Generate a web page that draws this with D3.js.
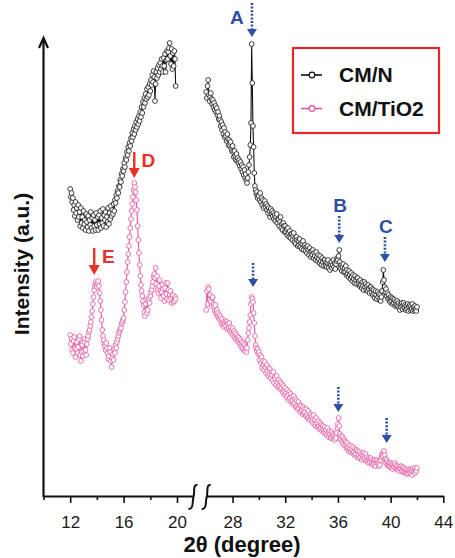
<!DOCTYPE html>
<html>
<head>
<meta charset="utf-8">
<script src="https://cdn.jsdelivr.net/npm/d3@7/dist/d3.min.js"></script>
<style>
  body { margin: 0; background: #fff; }
  svg { display: block; font-family: "Liberation Sans", Arial, Helvetica, sans-serif; }
</style>
</head>
<body>
<svg id="chart" width="455" height="558"></svg>
<script>
// XRD scans recorded with a 0.05° step; intensities in arbitrary units.
const step = 0.05;
const leftStart = 12.0;   // low-angle window, 12.00° – 19.90°
const rightStart = 26.0;  // high-angle window, 26.00° – 42.00°

// one row = 0.5°
const cmnLeft = [
  307, 299, 303, 294, 298, 286, 291, 280, 294, 283,
  288, 276, 291, 279, 284, 270, 288, 273, 279, 268,
  285, 272, 276, 266, 282, 274, 269, 280, 265, 276,
  271, 284, 268, 278, 265, 281, 270, 276, 266, 283,
  271, 279, 266, 281, 272, 285, 268, 278, 273, 287,
  270, 281, 276, 284, 269, 279, 274, 288, 272, 283,
  277, 290, 280, 286, 282, 292, 285, 296, 293, 301,
  298, 305, 303, 310, 309, 316, 314, 322, 320, 327,
  325, 333, 329, 338, 336, 344, 341, 349, 345, 353,
  350, 358, 355, 363, 359, 367, 362, 370, 366, 374,
  369, 377, 372, 380, 375, 384, 379, 389, 383, 394,
  389, 398, 393, 402, 397, 407, 399, 409, 401, 412,
  405, 416, 411, 421, 414, 425, 419, 395, 412, 424,
  418, 428, 421, 431, 424, 433, 427, 437, 430, 424,
  438, 430, 442, 424, 436, 445, 437, 444, 448, 453,
  440, 432, 447, 427, 443, 430, 445, 437, 410
];

const tio2Left = [
  161, 152, 157, 146, 143, 155, 159, 148, 139, 147,
  154, 143, 149, 157, 160, 141, 135, 144, 151, 140,
  145, 154, 157, 146, 141, 152, 157, 160, 164, 166,
  170, 174, 179, 185, 192, 199, 206, 210, 214, 211,
  209, 213, 215, 210, 203, 195, 186, 176, 166, 160,
  156, 152, 150, 146, 153, 148, 143, 137, 140, 148,
  144, 135, 129, 138, 142, 136, 147, 143, 151, 148,
  154, 157, 160, 163, 165, 167, 168, 172, 174, 176,
  178, 186, 194, 204, 214, 224, 234, 242, 250, 259,
  268, 277, 285, 292, 299, 306, 313, 309, 304, 296,
  286, 270, 256, 243, 231, 220, 211, 205, 200, 195,
  191, 184, 180, 192, 196, 183, 186, 195, 198, 193,
  200, 204, 206, 210, 214, 219, 222, 218, 228, 212,
  220, 206, 203, 210, 216, 205, 198, 204, 211, 207,
  200, 195, 208, 213, 202, 197, 213, 206, 196, 201,
  205, 198, 193, 200, 201, 194, 195, 199, 197
];

const cmnRight = [
  404, 398, 410, 416, 401, 395, 399, 403, 397, 392,
  396, 389, 393, 386, 390, 384, 388, 381, 384, 377,
  380, 376, 370, 374, 366, 371, 362, 368, 359, 364,
  360, 355, 362, 357, 351, 356, 350, 354, 348, 345,
  350, 344, 339, 345, 340, 336, 342, 335, 338, 333,
  336, 330, 334, 327, 331, 324, 329, 321, 326, 318,
  322, 316, 313, 318, 324, 331, 339, 351, 373, 452,
  413, 370, 349, 323, 310, 306, 302, 304, 298, 301,
  300, 296, 303, 294, 298, 291, 296, 288, 293, 295,
  289, 292, 286, 290, 283, 288, 285, 279, 287, 282,
  285, 280, 283, 277, 281, 275, 279, 282, 273, 277,
  276, 270, 274, 279, 268, 272, 266, 273, 270, 264,
  270, 264, 267, 261, 268, 263, 259, 265, 258, 262,
  262, 256, 260, 263, 254, 258, 252, 259, 256, 250,
  255, 251, 257, 249, 253, 247, 252, 255, 246, 250,
  251, 245, 249, 243, 250, 246, 241, 248, 244, 239,
  245, 241, 246, 238, 243, 240, 236, 244, 239, 235,
  241, 237, 233, 240, 235, 231, 238, 234, 230, 236,
  236, 230, 234, 229, 233, 236, 228, 232, 226, 231,
  234, 228, 231, 236, 229, 233, 227, 232, 235, 238,
  236, 240, 246, 234, 228, 231, 225, 229, 232, 224,
  228, 224, 230, 221, 226, 222, 219, 225, 221, 217,
  223, 219, 215, 221, 217, 213, 220, 216, 212, 218,
  218, 212, 215, 210, 216, 211, 208, 214, 210, 206,
  214, 209, 212, 206, 210, 205, 211, 207, 203, 209,
  209, 204, 207, 201, 206, 202, 198, 205, 201, 197,
  204, 199, 202, 196, 201, 195, 199, 205, 214, 226,
  216, 209, 204, 207, 200, 203, 197, 201, 198, 194,
  199, 195, 198, 192, 197, 193, 196, 190, 194, 191,
  195, 190, 193, 188, 186, 192, 189, 193, 187, 191,
  193, 188, 191, 186, 190, 187, 192, 185, 189, 191,
  186, 190, 187, 192, 185, 189, 186, 190, 187, 185,
  189
];

const tio2Right = [
  186, 205, 192, 209, 207, 196, 201, 194, 190, 198,
  199, 192, 189, 185, 191, 183, 186, 180, 183, 178,
  181, 176, 179, 173, 177, 171, 174, 169, 172, 175,
  170, 174, 167, 172, 168, 173, 165, 169, 163, 166,
  168, 161, 165, 159, 163, 157, 161, 155, 159, 156,
  158, 152, 156, 150, 154, 148, 153, 146, 151, 145,
  149, 144, 148, 156, 163, 168, 174, 181, 192, 199,
  197, 194, 183, 173, 160, 151, 148, 145, 147, 142,
  144, 136, 141, 133, 139, 128, 135, 131, 126, 134,
  129, 123, 131, 125, 120, 128, 122, 127, 118, 124,
  121, 116, 124, 113, 119, 117, 111, 120, 114, 109,
  116, 110, 107, 114, 108, 112, 104, 110, 106, 101,
  108, 103, 99, 106, 101, 96, 104, 98, 102, 94,
  99, 95, 92, 100, 93, 97, 89, 95, 90, 87,
  94, 88, 91, 84, 90, 86, 82, 89, 83, 87,
  84, 80, 87, 81, 78, 85, 79, 76, 82, 78,
  80, 74, 77, 81, 72, 76, 70, 78, 73, 69,
  75, 70, 67, 73, 68, 71, 65, 70, 66, 63,
  69, 64, 66, 61, 68, 63, 59, 65, 62, 58,
  64, 59, 62, 57, 61, 56, 60, 58, 63, 68,
  72, 78, 70, 62, 57, 60, 54, 59, 52, 57,
  55, 50, 54, 48, 53, 49, 45, 51, 47, 44,
  50, 46, 43, 49, 44, 41, 47, 42, 46, 39,
  45, 41, 38, 44, 39, 42, 36, 41, 38, 43,
  40, 37, 42, 35, 39, 36, 33, 38, 34, 37,
  38, 33, 36, 31, 35, 32, 36, 30, 34, 36,
  33, 35, 30, 34, 31, 36, 39, 42, 40, 44,
  45, 41, 37, 33, 36, 31, 34, 30, 33, 29,
  33, 28, 32, 27, 31, 29, 33, 28, 31, 27,
  30, 26, 29, 25, 28, 27, 30, 25, 29, 24,
  28, 24, 27, 23, 26, 22, 25, 23, 27, 24,
  26, 22, 25, 21, 27, 24, 28, 23, 26, 25,
  28
];

const majorTicksLeft = [12, 16, 20];
const minorTicksLeft = [10, 14, 18];
const majorTicksRight = [28, 32, 36, 40, 44];
const minorTicksRight = [30, 34, 38, 42];

const seriesNames = ["CM/N", "CM/TiO2"];
const seriesColors = ["#111111", "#e4549e"];

// Peak markers: angle, intensity at arrow tip, arrow length (px), label
const peakAngles  = [29.47, 36.1, 39.57, 29.56, 36.03, 39.7, 16.8, 13.8];
const peakTips    = [459, 253, 234, 209, 84, 53, 318, 221];
const peakLengths = [34, 27, 25, 24, 25, 25, 26, 27];
const peakLabels  = ["A", "B", "C", "", "", "", "D", "E"];
const peakWindow  = ["R", "R", "R", "R", "R", "R", "L", "L"];

const xTitle = "2θ (degree)";
const yTitle = "Intensity (a.u.)";

// ---- layout ----
const svg = d3.select("#chart");
const axisY = 496;
const axisLeftX = 43.5;
const breakL = 193, breakR = 206.2;

const xLeft = d3.scaleLinear().domain([10, 21.2]).range([axisLeftX, breakL]);
const xRight = d3.scaleLinear().domain([26, 44]).range([breakR, 443.3]);
const y = d3.scaleLinear().domain([0, 460]).range([axisY, 36]);

const toPoints = (vals, start) => vals.map((v, i) => ({ angle: +(start + i * step).toFixed(2), value: v }));

const series = [
  { name: seriesNames[1], color: seriesColors[1], left: toPoints(tio2Left, leftStart), right: toPoints(tio2Right, rightStart) },
  { name: seriesNames[0], color: seriesColors[0], left: toPoints(cmnLeft, leftStart), right: toPoints(cmnRight, rightStart) }
];

// ---- patterns ----
series.forEach(s => {
  [[s.left, xLeft], [s.right, xRight]].forEach(([pts, xs]) => {
    const line = d3.line().x(d => xs(d.angle)).y(d => y(d.value));
    svg.append("path")
      .datum(pts)
      .attr("d", line)
      .attr("fill", "none")
      .attr("stroke", s.color)
      .attr("stroke-width", 1.1)
      .attr("stroke-linejoin", "round");
    svg.append("g").selectAll("circle")
      .data(pts)
      .join("circle")
      .attr("cx", d => xs(d.angle))
      .attr("cy", d => y(d.value))
      .attr("r", 2.4)
      .attr("fill", "#fff")
      .attr("stroke", s.color)
      .attr("stroke-width", 0.8);
  });
});

// ---- x axis (broken) ----
function drawAxis(scale, majors, minors) {
  const gMaj = svg.append("g")
    .attr("transform", `translate(0,${axisY})`)
    .call(d3.axisBottom(scale).tickValues(majors).tickSize(7).tickSizeOuter(0)
      .tickPadding(13).tickFormat(d3.format("d")));
  gMaj.select(".domain").attr("stroke", "#111").attr("stroke-width", 2);
  gMaj.selectAll(".tick line").attr("stroke", "#111").attr("stroke-width", 1.6);
  gMaj.selectAll(".tick text")
    .attr("font-size", 17)
    .attr("font-family", "'Liberation Sans', Arial, sans-serif")
    .attr("fill", "#1a1a1a");

  const gMin = svg.append("g")
    .attr("transform", `translate(0,${axisY})`)
    .call(d3.axisBottom(scale).tickValues(minors).tickSize(4).tickSizeOuter(0).tickFormat(""));
  gMin.select(".domain").remove();
  gMin.selectAll(".tick line").attr("stroke", "#111").attr("stroke-width", 1.6);
}
drawAxis(xLeft, majorTicksLeft, minorTicksLeft);
drawAxis(xRight, majorTicksRight, minorTicksRight);

// axis break marks
[breakL, breakR].forEach(bx => {
  const cx = bx + 0.5;
  svg.append("path")
    .attr("d", `M${cx + 4},${axisY - 11} C${cx - 1},${axisY - 12} ${cx + 1.5},${axisY - 3} ${cx},${axisY + 1}` +
               ` C${cx - 1.5},${axisY + 6} ${cx + 0.5},${axisY + 13} ${cx - 5},${axisY + 13}`)
    .attr("fill", "none")
    .attr("stroke", "#111")
    .attr("stroke-width", 2);
});

// ---- y axis with arrow ----
svg.append("line")
  .attr("x1", axisLeftX).attr("x2", axisLeftX)
  .attr("y1", axisY + 1).attr("y2", 40)
  .attr("stroke", "#111").attr("stroke-width", 2.2);
svg.append("path")
  .attr("d", `M${axisLeftX - 4.5},${48} L${axisLeftX},${38} L${axisLeftX + 4.5},${48}`)
  .attr("fill", "none").attr("stroke", "#111").attr("stroke-width", 2.2)
  .attr("stroke-linejoin", "miter");

// ---- axis titles ----
svg.append("text")
  .attr("x", 242).attr("y", 552)
  .attr("text-anchor", "middle")
  .attr("font-size", 22).attr("font-weight", "bold")
  .attr("fill", "#111")
  .text(xTitle);

svg.append("text")
  .attr("transform", "translate(29,264) rotate(-90)")
  .attr("text-anchor", "middle")
  .attr("font-size", 21).attr("font-weight", "bold")
  .attr("fill", "#111")
  .text(yTitle);

// ---- peak arrows ----
const blue = "#2f4fa6", red = "#ec2f27";
peakAngles.forEach((a, i) => {
  const xs = peakWindow[i] === "L" ? xLeft : xRight;
  const px = xs(a);
  const tipY = y(peakTips[i]);
  const topY = tipY - peakLengths[i];
  const isRed = peakWindow[i] === "L";
  const col = isRed ? red : blue;
  const headH = isRed ? 10 : 8;
  const headW = isRed ? 5.5 : 5;
  svg.append("line")
    .attr("x1", px).attr("x2", px)
    .attr("y1", topY).attr("y2", tipY - headH + 1)
    .attr("stroke", col).attr("stroke-width", isRed ? 2.4 : 2.6)
    .attr("stroke-dasharray", isRed ? null : "2,1.6");
  svg.append("path")
    .attr("d", `M${px - headW},${tipY - headH} L${px + headW},${tipY - headH} L${px},${tipY} Z`)
    .attr("fill", col);
  const lab = peakLabels[i];
  if (!lab) return;
  let lx, ly;
  if (lab === "A") { lx = px - 15; ly = topY + 21; }
  else if (isRed) { lx = px + 14; ly = topY + 14.5; }
  else { lx = px + 1; ly = topY - 4.5; }
  svg.append("text")
    .attr("x", lx).attr("y", ly)
    .attr("text-anchor", "middle")
    .attr("font-size", 19).attr("font-weight", "bold")
    .attr("fill", col)
    .text(lab);
});

// ---- legend ----
const legend = svg.append("g");
legend.append("rect")
  .attr("x", 293).attr("y", 48).attr("width", 146).attr("height", 85)
  .attr("fill", "#fff").attr("stroke", "#e8262b").attr("stroke-width", 2.2);
[0, 1].forEach(i => {
  const ly = i === 0 ? 75 : 108.5;
  legend.append("line")
    .attr("x1", 301).attr("x2", 322).attr("y1", ly).attr("y2", ly)
    .attr("stroke", seriesColors[i]).attr("stroke-width", 1.6);
  legend.append("circle")
    .attr("cx", 312).attr("cy", ly).attr("r", 2.8)
    .attr("fill", "#fff").attr("stroke", seriesColors[i]).attr("stroke-width", 1.2);
  legend.append("text")
    .attr("x", 339).attr("y", ly + 7.3)
    .attr("font-size", 21).attr("font-weight", "bold")
    .attr("fill", "#111")
    .text(seriesNames[i]);
});
</script>
</body>
</html>
